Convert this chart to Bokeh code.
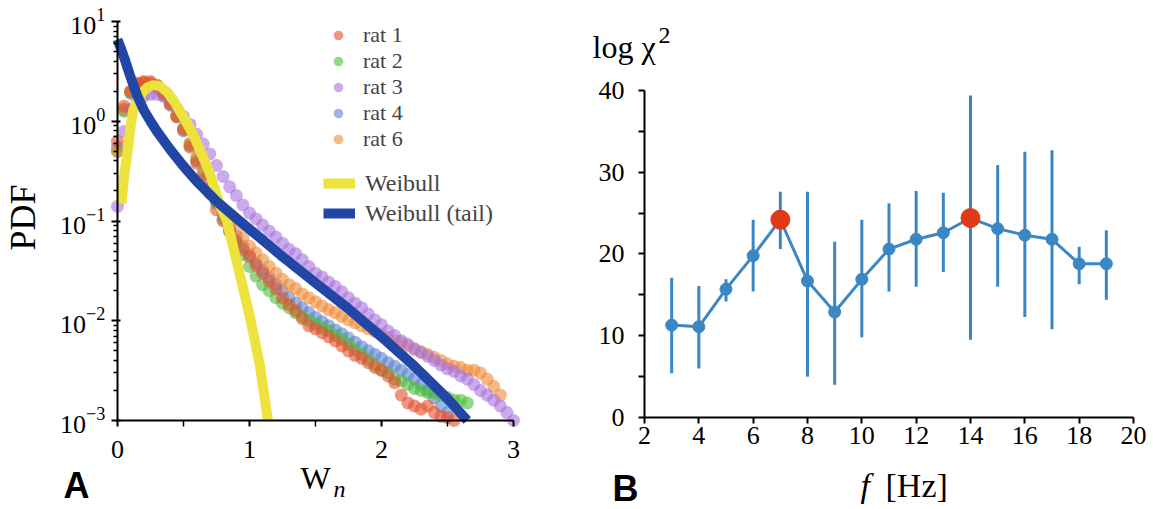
from math import pi
from bokeh.plotting import figure
from bokeh.layouts import row
from bokeh.models import (FixedTicker, Label, Legend, LegendItem)
from bokeh.embed import file_html
from bokeh.resources import INLINE

# ---------------- Panel A data ----------------
wn = [0.00, 0.05, 0.10, 0.15, 0.20, 0.25, 0.30, 0.35, 0.40, 0.45,
      0.50, 0.55, 0.60, 0.65, 0.70, 0.75, 0.80, 0.85, 0.90, 0.95,
      1.00, 1.05, 1.10, 1.15, 1.20, 1.25, 1.30, 1.35, 1.40, 1.45,
      1.50, 1.55, 1.60, 1.65, 1.70, 1.75, 1.80, 1.85, 1.90, 1.95,
      2.00, 2.05, 2.10, 2.15, 2.20, 2.25, 2.30, 2.35, 2.40, 2.45,
      2.50, 2.55, 2.60, 2.65, 2.70, 2.75, 2.80, 2.85, 2.90, 2.95, 3.00]

rat1 = [0.63, 1.41, 2.0, 2.4, 2.5, 2.5, 2.3, 1.9, 1.5, 1.12,
        0.83, 0.55, 0.38, 0.26, 0.19, 0.13, 0.10, 0.079, 0.063, 0.052,
        0.044, 0.036, 0.030, 0.025, 0.021, 0.017, 0.0145, 0.0126, 0.0105, 0.0089,
        0.0083, 0.0076, 0.0069, 0.0063, 0.0056, 0.0050, 0.0045, 0.0042, 0.0038, 0.0034,
        0.0032, 0.0028, 0.0024, 0.0018, 0.0015, 0.0014, 0.0013, 0.0014, 0.0012, 0.0011,
        0.00107, 0.001]
rat2 = [0.50, 1.26, 1.9, 2.24, 2.4, 2.4, 2.24, 1.9, 1.51, 1.15,
        0.85, 0.60, 0.42, 0.30, 0.21, 0.15, 0.105, 0.079, 0.060, 0.046,
        0.035, 0.028, 0.023, 0.020, 0.017, 0.015, 0.0135, 0.012, 0.011, 0.010,
        0.0093, 0.0085, 0.0079, 0.0071, 0.0065, 0.0058, 0.0051, 0.0046, 0.0041, 0.0036,
        0.0032, 0.0030, 0.0026, 0.0025, 0.0023, 0.0021, 0.0020, 0.0019, 0.0019, 0.0018,
        0.0017, 0.0016, 0.0016, 0.0015]
rat3 = [0.14, 0.79, 1.32, 1.58, 1.78, 1.86, 1.86, 1.78, 1.58, 1.35,
        1.12, 0.93, 0.74, 0.59, 0.47, 0.36, 0.28, 0.22, 0.18, 0.145,
        0.12, 0.105, 0.091, 0.079, 0.069, 0.060, 0.052, 0.047, 0.041, 0.035,
        0.030, 0.0275, 0.0245, 0.022, 0.0195, 0.017, 0.015, 0.0135, 0.0117, 0.0102,
        0.0091, 0.0079, 0.0071, 0.0063, 0.0058, 0.0052, 0.0048, 0.0044, 0.0040, 0.0036,
        0.0033, 0.0031, 0.0028, 0.0026, 0.0023, 0.0020, 0.0018, 0.0016, 0.0014, 0.0012,
        0.001]
rat4 = [0.55, 1.3, 1.95, 2.3, 2.4, 2.35, 2.15, 1.8, 1.45, 1.1,
        0.8, 0.57, 0.40, 0.29, 0.21, 0.155, 0.115, 0.088, 0.070, 0.056,
        0.046, 0.038, 0.032, 0.027, 0.023, 0.020, 0.017, 0.015, 0.0135, 0.012,
        0.0108, 0.0098, 0.0089, 0.0081, 0.0074, 0.0067, 0.0061, 0.0055, 0.0050, 0.0046,
        0.0042, 0.0038, 0.0035, 0.0032, 0.0029, 0.0026, 0.0023, 0.0020, 0.0017, 0.0014,
        0.0012]
rat6 = [0.50, 1.32, 2.0, 2.34, 2.45, 2.4, 2.19, 1.86, 1.48, 1.12,
        0.83, 0.60, 0.43, 0.31, 0.22, 0.166, 0.126, 0.100, 0.081, 0.068,
        0.056, 0.048, 0.041, 0.035, 0.030, 0.026, 0.023, 0.021, 0.0186, 0.017,
        0.0155, 0.0141, 0.0129, 0.012, 0.011, 0.0102, 0.0095, 0.0089, 0.0083, 0.0078,
        0.0072, 0.0068, 0.0063, 0.0060, 0.0056, 0.0052, 0.0049, 0.0046, 0.0043, 0.0040,
        0.0037, 0.0035, 0.0034, 0.0032, 0.0032, 0.0030, 0.0026, 0.0022, 0.0018]

weibull_x = [0.03, 0.05, 0.075, 0.10, 0.12, 0.15, 0.19, 0.23, 0.27, 0.32, 0.38, 0.44,
             0.50, 0.57, 0.63, 0.70, 0.78, 0.83, 0.90, 0.96, 1.01, 1.08, 1.14]
weibull_y = [0.15, 0.28, 0.48, 0.9, 1.3, 1.6, 1.95, 2.2, 2.3, 2.25, 1.95, 1.5,
             1.1, 0.75, 0.5, 0.30, 0.14, 0.10, 0.041, 0.019, 0.01, 0.0035, 0.001]

tail_x = [0.0, 0.03, 0.06, 0.10, 0.15, 0.20, 0.25, 0.30, 0.40, 0.50, 0.60, 0.75, 0.90,
          1.00, 1.25, 1.50, 1.75, 2.00, 2.25, 2.50, 2.65]
tail_y = [6.6, 5.2, 4.0, 2.75, 1.8, 1.29, 1.0, 0.79, 0.52, 0.355, 0.25, 0.158, 0.107,
          0.083, 0.044, 0.024, 0.0132, 0.0069, 0.0035, 0.00166, 0.001]

# ---------------- Panel B data ----------------
freq = [3, 4, 5, 6, 7, 8, 9, 10, 11, 12, 13, 14, 15, 16, 17, 18, 19]
log_chi2 = [11.3, 11.1, 15.7, 19.8, 24.2, 16.7, 12.9, 16.9, 20.6, 21.8, 22.6, 24.4, 23.1, 22.3, 21.8, 18.8, 18.8]
err_hi = [17.1, 16.1, 16.9, 24.2, 27.6, 27.6, 21.5, 24.2, 26.2, 27.7, 27.5, 39.4, 30.9, 32.5, 32.7, 20.9, 22.9]
err_lo = [5.4, 6.0, 14.2, 15.4, 20.6, 5.0, 4.0, 9.8, 15.4, 16.0, 17.8, 9.5, 16.0, 12.3, 10.8, 16.3, 14.4]
highlight_f = [7, 14]

SERIF = "Liberation Serif"
SANS = "Liberation Sans"
TICK_SIZE = "26px"

def lab(p, x, y, text, font=SERIF, size="24px", style="normal", align="left", baseline="alphabetic", angle=0):
    p.add_layout(Label(x=x, y=y, x_units="screen", y_units="screen", text=text, text_font=font,
                       text_font_size=size, text_font_style=style, text_align=align,
                       text_baseline=baseline, angle=angle, text_color="black"))

def style_axis(ax):
    ax.axis_line_width = 2
    ax.axis_line_color = "black"
    ax.major_tick_line_width = 2
    ax.minor_tick_line_width = 1.5
    ax.major_tick_line_color = "black"
    ax.minor_tick_line_color = "black"
    ax.major_label_text_font = SERIF
    ax.major_label_text_font_size = TICK_SIZE
    ax.major_label_text_color = "black"

# ---------------- Panel A ----------------
# canvas 560 x 509; axes drawn at fixed locations x=0 / y=1e-3 (x: 0->117px, 3->513px; y: 10->21px, 1e-3->420px)
pA = figure(width=560, height=509, x_range=(-0.886, 3.356), y_range=(10 ** -3.892, 10 ** 1.2105),
            y_axis_type="log", output_backend="svg", toolbar_location=None,
            min_border=0, min_border_left=0, min_border_right=0, min_border_top=0, min_border_bottom=0)
pA.grid.visible = False
pA.outline_line_color = None

rat_specs = [("rat 4", rat4, "#5b84d0"), ("rat 2", rat2, "#4cbb3c"), ("rat 6", rat6, "#f08a35"),
             ("rat 3", rat3, "#a873e0"), ("rat 1", rat1, "#e4502e")]
rends = {}
for name, ys, col in rat_specs:
    rends[name] = pA.scatter(wn[:len(ys)], ys, size=13, fill_color=col, fill_alpha=0.6, line_color=None)

r_w = pA.line(weibull_x, weibull_y, line_width=10, line_color="#ede33c")
r_t = pA.line(tail_x, tail_y, line_width=10, line_color="#2146a5")

yticks = [1e-3, 1e-2, 1e-1, 1, 10]
yminor = [m * d for d in [1e-3, 1e-2, 1e-1, 1] for m in range(2, 10)]
pA.yaxis.ticker = FixedTicker(ticks=yticks, minor_ticks=yminor)
pA.xaxis.ticker = FixedTicker(ticks=[0, 1, 2, 3], minor_ticks=[0.5, 1.5, 2.5])
pA.yaxis.fixed_location = 0
pA.yaxis.bounds = (1e-3, 10)
pA.xaxis.fixed_location = 1e-3
pA.xaxis.bounds = (0, 3)

style_axis(pA.xaxis[0])
style_axis(pA.yaxis[0])
pA.yaxis.major_tick_in = 3
pA.yaxis.major_tick_out = 6
pA.yaxis.minor_tick_in = 0
pA.yaxis.minor_tick_out = 4
pA.yaxis.major_label_standoff = 6
pA.xaxis.major_tick_in = 0
pA.xaxis.major_tick_out = 6
pA.xaxis.minor_tick_in = 0
pA.xaxis.minor_tick_out = 6
pA.xaxis.major_label_standoff = 14

leg_rats = Legend(items=[LegendItem(label=n, renderers=[rends[n]]) for n in ["rat 1", "rat 2", "rat 3", "rat 4", "rat 6"]],
                  location=(323, 357), glyph_width=30, glyph_height=24, label_standoff=10,
                  label_text_font=SERIF, label_text_font_size="22px", spacing=0, padding=0, margin=0,
                  border_line_color=None, background_fill_alpha=0)
leg_w = Legend(items=[LegendItem(label="Weibull", renderers=[r_w]),
                      LegendItem(label="Weibull (tail)", renderers=[r_t])],
               location=(323, 281), glyph_width=32, glyph_height=30, label_standoff=10,
               label_text_font=SERIF, label_text_font_size="24px", spacing=0, padding=0, margin=0,
               border_line_color=None, background_fill_alpha=0)
pA.add_layout(leg_rats)
pA.add_layout(leg_w)

lab(pA, 22, 292, "PDF", size="36px", align="center", baseline="middle", angle=pi / 2)
lab(pA, 300, 32, "W", size="32px")
lab(pA, 333, 21, "n", size="24px", style="italic")
lab(pA, 63, 24, "A", font=SANS, size="36px", style="bold")

# ---------------- Panel B ----------------
# canvas 593 x 509 starting at page x=560; x: 2->84px, 20->573px; y: 0->417px, 40->90px (from top)
BLUE = "#3b87c3"
RED = "#e03a17"
pB = figure(width=593, height=509, x_range=(-1.092, 20.736), y_range=(-11.254, 51.009),
            output_backend="svg", toolbar_location=None,
            min_border=0, min_border_left=0, min_border_right=0, min_border_top=0, min_border_bottom=0)
pB.grid.visible = False
pB.outline_line_color = None

pB.segment(freq, err_lo, freq, err_hi, line_width=3, line_color=BLUE)
pB.line(freq, log_chi2, line_width=3, line_color=BLUE)
pB.scatter(freq, log_chi2, size=12, fill_color=BLUE, line_color=BLUE)
hl_vals = [log_chi2[freq.index(f)] for f in highlight_f]
pB.scatter(highlight_f, hl_vals, size=19, fill_color=RED, line_color=RED)

pB.xaxis.ticker = FixedTicker(ticks=[2, 4, 6, 8, 10, 12, 14, 16, 18, 20], minor_ticks=[])
pB.yaxis.ticker = FixedTicker(ticks=[0, 10, 20, 30, 40], minor_ticks=[5, 15, 25, 35])
pB.xaxis.fixed_location = 0
pB.xaxis.bounds = (2, 20)
pB.yaxis.fixed_location = 2
pB.yaxis.bounds = (0, 40)
for ax in (pB.xaxis[0], pB.yaxis[0]):
    style_axis(ax)
    ax.minor_tick_line_width = 2
    ax.major_tick_in = 0
    ax.minor_tick_in = 0
    ax.major_tick_out = 6
    ax.minor_tick_out = 6
pB.yaxis.major_label_standoff = 14
pB.xaxis.major_label_standoff = 4

lab(pB, 32, 463, "log \u03c7", size="32px")
lab(pB, 98, 474, "2", size="24px")
lab(pB, 300, 24, "f", size="34px", style="italic")
lab(pB, 325, 24, "[Hz]", size="34px")
lab(pB, 52, 21, "B", font=SANS, size="36px", style="bold")

layout = row(pA, pB, spacing=0)
open("out.html", "w").write(file_html(layout, INLINE))
